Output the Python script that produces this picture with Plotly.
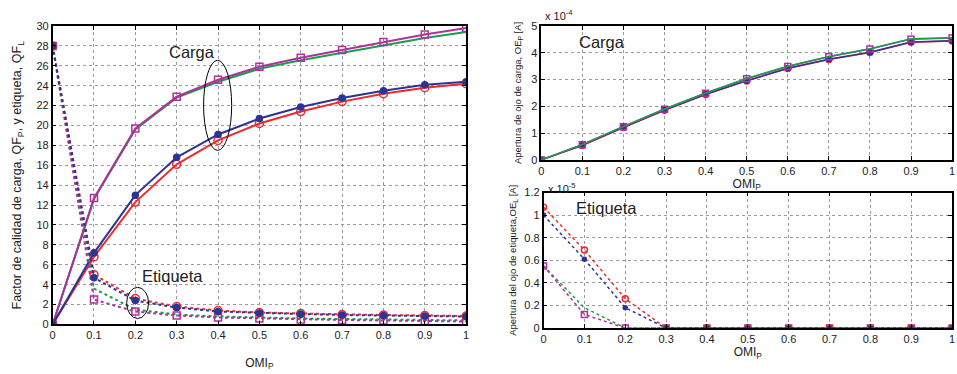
import plotly.graph_objects as go

# OMI_P sweep
omi = [0, 0.1, 0.2, 0.3, 0.4, 0.5, 0.6, 0.7, 0.8, 0.9, 1.0]

# Quality factor, load (Carga) curves
qf_carga_mag = [0, 12.7, 19.7, 22.9, 24.6, 25.9, 26.8, 27.6, 28.4, 29.15, 29.8]
qf_carga_grn = [0, 12.6, 19.6, 22.8, 24.4, 25.7, 26.55, 27.3, 28.05, 28.8, 29.4]
qf_carga_blu = [0, 7.2, 13.0, 16.8, 19.1, 20.7, 21.85, 22.76, 23.5, 24.1, 24.4]
qf_carga_red = [0, 6.8, 12.3, 16.1, 18.5, 20.2, 21.4, 22.4, 23.2, 23.8, 24.2]

# Quality factor, label (Etiqueta) curves
qf_etiq_red = [28, 5.0, 2.6, 1.8, 1.4, 1.2, 1.1, 1.0, 0.95, 0.9, 0.85]
qf_etiq_blu = [28, 4.7, 2.4, 1.7, 1.3, 1.15, 1.05, 0.95, 0.9, 0.85, 0.8]
qf_etiq_mag = [28, 2.5, 1.3, 0.9, 0.7, 0.6, 0.5, 0.45, 0.4, 0.35, 0.3]
qf_etiq_grn = [28, 3.6, 1.5, 1.0, 0.8, 0.68, 0.6, 0.55, 0.5, 0.45, 0.4]

# Eye opening, load (x 1e-4 A)
oe_carga_grn = [0, 0.58, 1.25, 1.9, 2.5, 3.04, 3.5, 3.86, 4.15, 4.52, 4.56]
oe_carga_mag = [0, 0.57, 1.24, 1.89, 2.49, 3.03, 3.49, 3.85, 4.14, 4.51, 4.55]
oe_carga_blu = [0, 0.55, 1.22, 1.86, 2.45, 2.96, 3.42, 3.76, 4.02, 4.4, 4.45]
oe_carga_red = [0, 0.54, 1.21, 1.85, 2.44, 2.95, 3.41, 3.75, 4.01, 4.39, 4.44]

# Eye opening, label (x 1e-5 A)
oe_etiq_red = [1.07, 0.69, 0.26, 0, 0, 0, 0, 0, 0, 0, 0]
oe_etiq_blu = [1.0, 0.61, 0.18, 0, 0, 0, 0, 0, 0, 0, 0]
oe_etiq_mag = [0.55, 0.12, 0, 0, 0, 0, 0, 0, 0, 0, 0]
oe_etiq_grn = [0.55, 0.18, 0, 0, 0, 0, 0, 0, 0, 0, 0]

MAG = "#b0309e"
GRN = "#1a9e4a"
BLU = "#2b3594"
RED = "#ee2a2e"

fig = go.Figure()


def add(x, y, color, dash, marker, xa, ya, width=2, msize=7, mfill=None):
    m = dict(symbol=marker, size=msize, color=mfill or color,
             line=dict(color=color, width=1.5)) if marker else None
    fig.add_trace(go.Scatter(
        x=x, y=y, xaxis=xa, yaxis=ya,
        mode="lines+markers" if marker else "lines",
        line=dict(color=color, width=width, dash=dash),
        marker=m, showlegend=False, hoverinfo="skip"))


# Left panel: quality factors
add(omi, qf_carga_grn, GRN, "solid", None, "x", "y")
add(omi, qf_carga_mag, MAG, "solid", "square-open", "x", "y")
add(omi, qf_carga_red, RED, "solid", "circle-open", "x", "y", msize=8)
add(omi, qf_carga_blu, BLU, "solid", "circle", "x", "y", msize=6)
add(omi, qf_etiq_grn, GRN, "dot", None, "x", "y")
add(omi, qf_etiq_mag, MAG, "dot", "square-open", "x", "y")
add(omi, qf_etiq_red, RED, "dot", "circle-open", "x", "y", msize=8)
add(omi, qf_etiq_blu, BLU, "dot", "circle", "x", "y", msize=6)

# Top-right panel: load eye opening
add(omi, oe_carga_red, RED, "solid", "circle-open", "x2", "y2", width=1.5, msize=6)
add(omi, oe_carga_blu, BLU, "solid", "circle", "x2", "y2", width=1.5, msize=5)
add(omi, oe_carga_mag, MAG, "solid", "square-open", "x2", "y2", width=1.5, msize=6)
add(omi, oe_carga_grn, GRN, "solid", None, "x2", "y2", width=1.5)

# Bottom-right panel: label eye opening
add(omi, oe_etiq_grn, GRN, "dot", None, "x3", "y3", width=1.5)
add(omi, oe_etiq_mag, MAG, "dot", "square-open", "x3", "y3", width=1.5, msize=6)
add(omi, oe_etiq_red, RED, "dot", "circle-open", "x3", "y3", width=1.5, msize=6)
add(omi, oe_etiq_blu, BLU, "dot", "circle", "x3", "y3", width=1.5, msize=4)

tick_vals_x = [round(0.1 * i, 1) for i in range(11)]
tick_text_x = ["0"] + [f"{v:g}" for v in tick_vals_x[1:-1]] + ["1"]

axis_common = dict(
    showline=True, linecolor="black", linewidth=1.5, mirror="ticks",
    ticks="inside", ticklen=4, tickcolor="black",
    showgrid=True, gridcolor="#9a9a9a", griddash="dot", gridwidth=1,
    zeroline=False, tickfont=dict(family="Liberation Sans", size=11, color="#222"),
)

fig.update_layout(
    width=957, height=374,
    margin=dict(l=0, r=0, t=0, b=0),
    paper_bgcolor="white", plot_bgcolor="white",
    font=dict(family="Liberation Sans", color="#222"),
    xaxis=dict(domain=[0.0522, 0.487], range=[0, 1], tickvals=tick_vals_x,
               ticktext=tick_text_x,
               title=dict(text="OMI<sub>P</sub>", font=dict(size=12), standoff=18),
               anchor="y", **axis_common),
    yaxis=dict(domain=[0.1203, 0.9447], range=[0, 30], dtick=2,
               title=dict(text="Factor de calidad de carga, QF<sub>P</sub>, y etiqueta, QF<sub>L</sub>",
                          font=dict(size=12.5), standoff=12),
               anchor="x", **axis_common),
    xaxis2=dict(domain=[0.566, 0.998], range=[0, 1], tickvals=tick_vals_x,
                ticktext=tick_text_x,
                title=dict(text="OMI<sub>P</sub>", font=dict(size=12), standoff=0),
                anchor="y2", **axis_common),
    yaxis2=dict(domain=[0.5749, 0.9447], range=[0, 5], dtick=1,
                title=dict(text="Apertura de ojo de carga, OE<sub>P</sub> [A]",
                           font=dict(size=9.5), standoff=8),
                anchor="x2", **axis_common),
    xaxis3=dict(domain=[0.5684, 0.998], range=[0, 1], tickvals=tick_vals_x,
                ticktext=tick_text_x,
                title=dict(text="OMI<sub>P</sub>", font=dict(size=12), standoff=4),
                anchor="y3", **axis_common),
    yaxis3=dict(domain=[0.1104, 0.4848], range=[0, 1.2], dtick=0.2,
                tickvals=[0, 0.2, 0.4, 0.6, 0.8, 1.0, 1.2],
                ticktext=["0", "0.2", "0.4", "0.6", "0.8", "1", "1.2"],
                title=dict(text="Apertura del ojo de etiqueta,OE<sub>L</sub> [A]",
                           font=dict(size=9.5), standoff=6),
                anchor="x3", **axis_common),
)

# Ellipses grouping the curve families
fig.add_shape(type="circle", xref="x", yref="y", x0=0.365, x1=0.433, y0=17.5, y1=26.55,
              line=dict(color="black", width=1))
fig.add_shape(type="circle", xref="x", yref="y", x0=0.179, x1=0.232, y0=0.6, y1=3.73,
              line=dict(color="black", width=1))

txt = dict(family="Liberation Sans", size=16.5, color="#222")
fig.add_annotation(x=0.337, y=27.4, xref="x", yref="y", text="Carga", showarrow=False, font=txt)
fig.add_annotation(x=0.29, y=4.86, xref="x", yref="y", text="Etiqueta", showarrow=False, font=txt)
fig.add_annotation(x=0.147, y=4.4, xref="x2", yref="y2", text="Carga", showarrow=False, font=txt)
fig.add_annotation(x=0.153, y=1.066, xref="x3", yref="y3", text="Etiqueta", showarrow=False, font=txt)

# Axis multipliers
fig.add_annotation(x=0.568, y=1.0, xref="paper", yref="paper", xanchor="left", yanchor="top",
                   text="x 10<sup>-4</sup>", showarrow=False,
                   font=dict(family="Liberation Sans", size=11, color="#222"))
fig.add_annotation(x=0.571, y=0.522, xref="paper", yref="paper", xanchor="left", yanchor="top",
                   text="x 10<sup>-5</sup>", showarrow=False,
                   font=dict(family="Liberation Sans", size=11, color="#222"))

fig.write_html("out.html")
